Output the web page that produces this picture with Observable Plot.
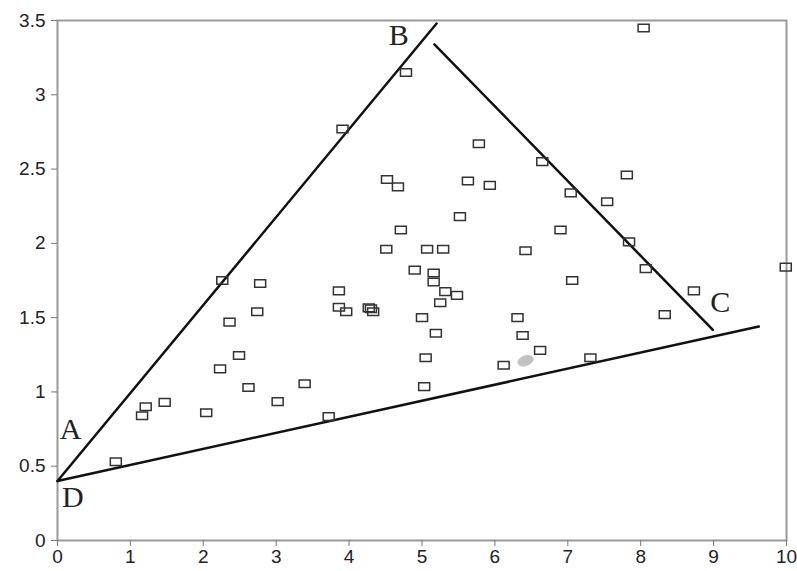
<!DOCTYPE html>
<html>
<head>
<meta charset="utf-8">
<script src="https://cdn.jsdelivr.net/npm/d3@7"></script>
<script src="https://cdn.jsdelivr.net/npm/@observablehq/plot@0.6"></script>
<style>
  html, body { margin: 0; padding: 0; background: #fff; }
  #chart svg { display: block; }
</style>
</head>
<body>
<div id="chart"></div>
<script>
// Observed data points (x, y)
const xs = [0.80,1.16,1.21,1.47,2.04,2.23,2.26,2.36,2.49,2.62,2.74,2.78,3.02,3.39,3.72,3.86,3.86,3.91,3.96,4.27,4.33,4.30,
            4.51,4.52,4.67,4.71,4.78,4.90,5.00,5.03,5.05,5.07,5.16,5.16,5.19,5.25,5.29,5.32,5.48,5.52,5.63,5.78,5.93,
            6.12,6.31,6.38,6.42,6.62,6.65,6.90,7.04,7.06,7.31,7.54,7.81,7.84,8.04,8.07,8.33,8.73,9.99];
const ys = [0.53,0.84,0.90,0.93,0.86,1.155,1.75,1.47,1.245,1.03,1.54,1.73,0.935,1.055,0.834,1.68,1.57,2.77,1.54,1.566,1.54,1.56,
            1.96,2.43,2.38,2.09,3.15,1.82,1.50,1.036,1.23,1.96,1.80,1.74,1.395,1.60,1.96,1.675,1.65,2.18,2.42,2.67,2.39,
            1.18,1.50,1.38,1.95,1.28,2.55,2.09,2.34,1.75,1.23,2.28,2.46,2.01,3.45,1.83,1.52,1.68,1.84];
const points = xs.map((x, i) => ({x, y: ys[i]}));

// Blurred grey mark
const smudge = [{x: 6.42, y: 1.21}];

// Boundary lines (endpoints in data units)
const lineAB = [{x: 0, y: 0.40}, {x: 5.20, y: 3.48}];
const lineBC = [{x: 5.17, y: 3.34}, {x: 8.99, y: 1.418}];
const lineDC = [{x: 0, y: 0.40}, {x: 9.62, y: 1.44}];

// Corner labels
const labelText = ["A", "B", "C", "D"];
const labelX = [0.18, 4.68, 9.09, 0.21];
const labelY = [0.75, 3.40, 1.60, 0.29];
const labels = labelText.map((t, i) => ({t, x: labelX[i], y: labelY[i]}));

const xTicks = d3.range(0, 11, 1);
const yTicks = [0, 0.5, 1, 1.5, 2, 2.5, 3, 3.5];

const rectSymbol = {
  draw(context, size) {
    context.moveTo(-5.5, -3.8);
    context.lineTo(5.5, -3.8);
    context.lineTo(5.5, 3.8);
    context.lineTo(-5.5, 3.8);
    context.closePath();
  }
};

const ellipseSymbol = {
  draw(context, size) {
    const a = 8, b = 5, rot = -0.35, n = 32;
    for (let i = 0; i < n; i++) {
      const t = (i / n) * 2 * Math.PI;
      const px = a * Math.cos(t), py = b * Math.sin(t);
      const qx = px * Math.cos(rot) - py * Math.sin(rot);
      const qy = px * Math.sin(rot) + py * Math.cos(rot);
      if (i === 0) context.moveTo(qx, qy); else context.lineTo(qx, qy);
    }
    context.closePath();
  }
};

const chart = Plot.plot({
  width: 797,
  height: 571,
  marginLeft: 57,
  marginRight: 11,
  marginTop: 20,
  marginBottom: 31,
  style: {fontFamily: "'Liberation Sans', Arial, sans-serif", fontSize: "19px", background: "#fff"},
  x: {domain: [0, 10]},
  y: {domain: [0, 3.5]},
  marks: [
    Plot.frame({stroke: "#999", strokeWidth: 2}),
    Plot.axisX({ticks: xTicks, tickSize: 6, tickPadding: 3, stroke: "#777", fill: "#222", label: null, tickFormat: d => String(d)}),
    Plot.axisY({ticks: yTicks, tickSize: 6, tickPadding: 6, stroke: "#777", fill: "#222", label: null, tickFormat: d => String(d)}),
    Plot.line(lineAB, {x: "x", y: "y", stroke: "#111", strokeWidth: 2.5}),
    Plot.line(lineBC, {x: "x", y: "y", stroke: "#111", strokeWidth: 2.5}),
    Plot.line(lineDC, {x: "x", y: "y", stroke: "#111", strokeWidth: 2.5}),
    Plot.dot(smudge, {x: "x", y: "y", symbol: ellipseSymbol, fill: "#bbb", fillOpacity: 0.9, stroke: "#ccc", strokeWidth: 1}),
    Plot.dot(points, {x: "x", y: "y", symbol: rectSymbol, stroke: "#333", strokeWidth: 1.5, fill: "none"}),
    Plot.text(labels, {x: "x", y: "y", text: "t", fontFamily: "'Liberation Serif', 'Times New Roman', serif", fontSize: 30, fill: "#222"})
  ]
});

document.getElementById("chart").appendChild(chart);
</script>
</body>
</html>
